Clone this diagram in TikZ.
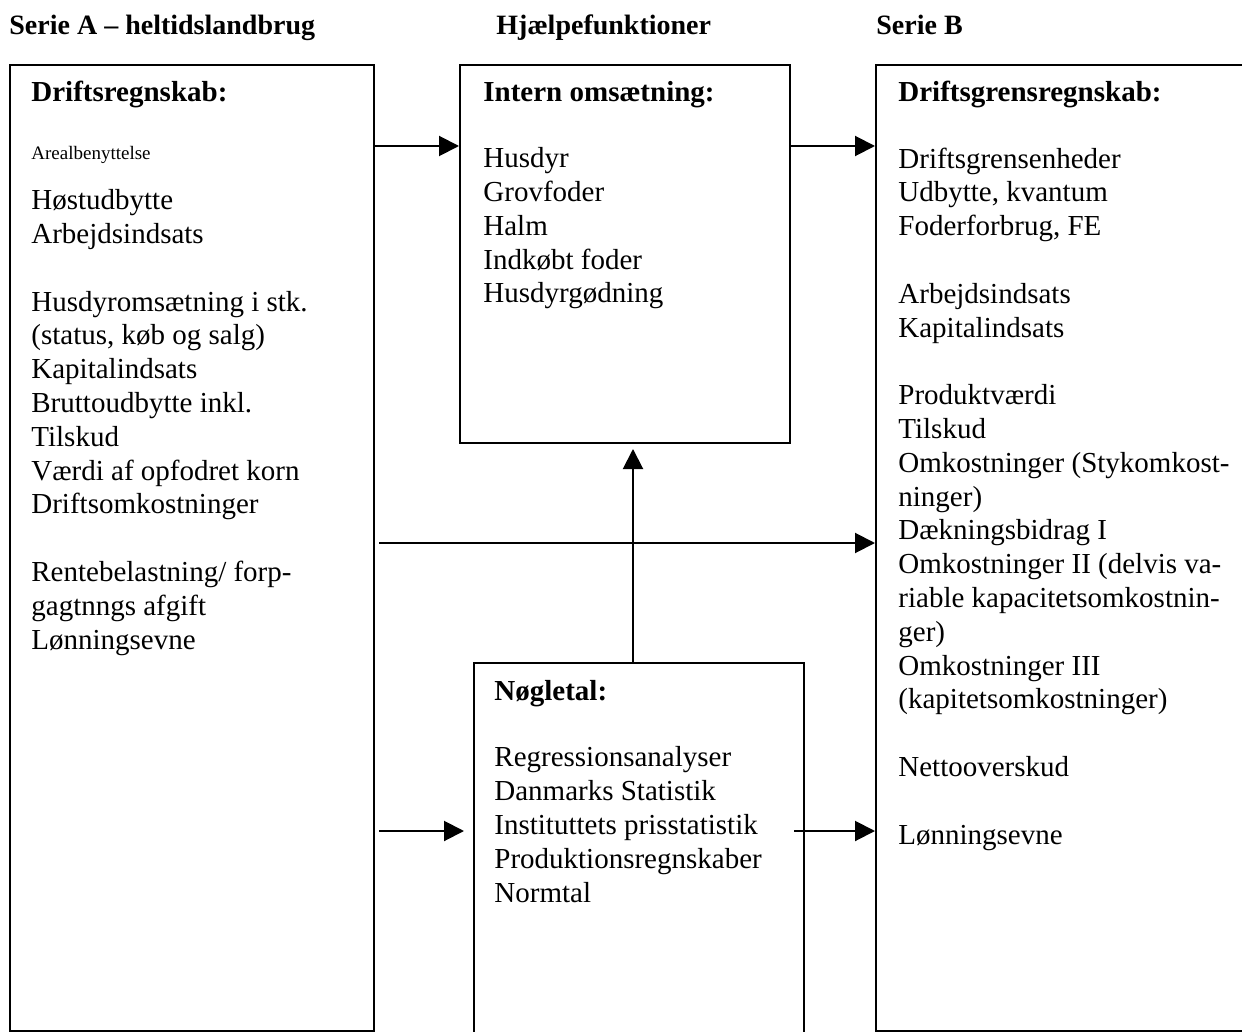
\documentclass[tikz,border=0pt]{standalone}
\usepackage{fontspec}
\setmainfont{Liberation Serif}
\usetikzlibrary{arrows.meta,positioning}

\begin{document}
\begin{tikzpicture}[x=0.5pt,y=-0.5pt,
    boks/.style={draw,line width=1pt,anchor=north west,inner sep=0pt},
    overskrift/.style={anchor=base west,inner sep=0pt,font=\fontsize{14}{17}\selectfont\bfseries},
    titel/.style={anchor=base west,inner sep=0pt,font=\fontsize{14.5}{17}\selectfont\bfseries},
    tekst/.style={anchor=base west,inner sep=0pt,align=left,font=\fontsize{14.5}{16.9}\selectfont},
    pil/.style={-{Triangle[length=10pt,width=10pt]},line width=1pt}]

  \useasboundingbox (0,0) rectangle (1242,1032);

  % Overskrifter
  \node[overskrift] (serieA) at (9,35) {Serie A – heltidslandbrug};
  \node[overskrift] (hjaelp) at (496,35) {Hjælpefunktioner};
  \node[overskrift] (serieB) at (876,35) {Serie B};

  % Kasser
  \node[boks,minimum width=182pt,minimum height=483pt] (drift) at (9,64) {};
  \node[boks,minimum width=165pt,minimum height=189pt] (intern) at (459,64) {};
  \node[boks,minimum width=165pt,minimum height=192pt] (noegle) at (473,662) {};
  \node[boks,minimum width=195pt,minimum height=483pt] (grens) at (875,64) {};

  % Driftsregnskab (tekstblokke sat ved sidste linjes grundlinje)
  \node[titel] (driftT) at (31,102) {Driftsregnskab:};
  \node[anchor=base west,inner sep=0pt,font=\fontsize{9.5}{11}\selectfont] (areal) at (31,160) {Arealbenyttelse};
  \node[tekst] (driftL) at (31,649) {Høstudbytte\\Arbejdsindsats\\[16.9pt]
    Husdyromsætning i stk.\\(status, køb og salg)\\Kapitalindsats\\
    Bruttoudbytte inkl.\\Tilskud\\Værdi af opfodret korn\\Driftsomkostninger\\[16.9pt]
    Rentebelastning/ forp-\\gagtnngs afgift\\Lønningsevne};

  % Intern omsætning
  \node[titel] (internT) at (483,102) {Intern omsætning:};
  \node[tekst] (internL) at (483,303) {Husdyr\\Grovfoder\\Halm\\Indkøbt foder\\Husdyrgødning};

  % Nøgletal
  \node[titel] (noegleT) at (494,700) {Nøgletal:};
  \node[tekst] (noegleL) at (494,902) {Regressionsanalyser\\Danmarks Statistik\\
    Instituttets prisstatistik\\Produktionsregnskaber\\Normtal};

  % Driftsgrensregnskab
  \node[titel] (grensT) at (898,102) {Driftsgrensregnskab:};
  \node[tekst] (grensL) at (898,844) {Driftsgrensenheder\\Udbytte, kvantum\\Foderforbrug, FE\\[16.9pt]
    Arbejdsindsats\\Kapitalindsats\\[16.9pt]
    Produktværdi\\Tilskud\\Omkostninger (Stykomkost-\\ninger)\\Dækningsbidrag I\\
    Omkostninger II (delvis va-\\riable kapacitetsomkostnin-\\ger)\\
    Omkostninger III\\(kapitetsomkostninger)\\[16.9pt]
    Nettooverskud\\[16.9pt]
    Lønningsevne};

  % Pile
  \path (noegle.east |- 0,831) ++(-11,0) coordinate (nstart);
  \coordinate (lodret) at (633,0);
  \draw[pil] (drift.east |- 0,146) -- (intern.west |- 0,146);
  \draw[pil] (intern.east |- 0,146) -- (grens.west |- 0,146);
  \draw[pil,shorten >=2.5pt] (noegle.north -| lodret) -- (intern.south -| lodret);
  \draw[pil,shorten <=2pt] (drift.east |- 0,543) -- (grens.west |- 0,543);
  \draw[pil,shorten <=2pt,shorten >=4.5pt] (drift.east |- 0,831) -- (noegle.west |- 0,831);
  \draw[pil] (nstart) -- (grens.west |- 0,831);
\end{tikzpicture}
\end{document}
